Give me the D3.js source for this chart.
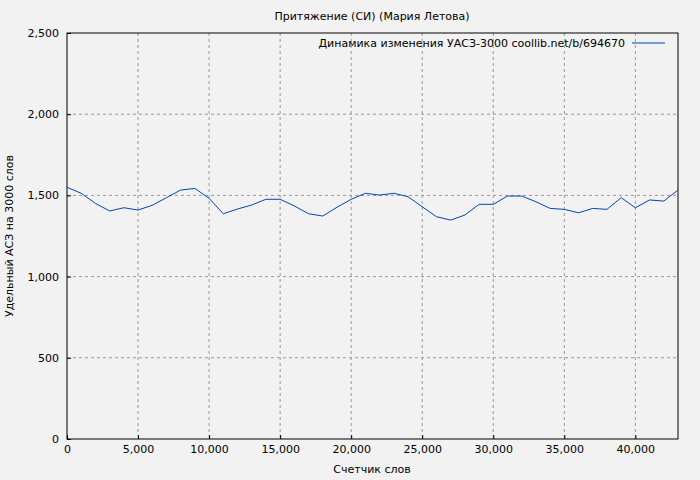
<!DOCTYPE html>
<html><head><meta charset="utf-8">
<script src="https://cdn.jsdelivr.net/npm/d3@7"></script>
<style>body{margin:0;background:#f2f2f2}text{font-family:"DejaVu Sans",sans-serif}</style>
</head><body><svg id="c" width="700" height="480"></svg>
<script>
const words = d3.range(0, 44000, 1000);
const uas = [1550,1513,1451,1404,1424,1410,1439,1486,1533,1543,1482,1387,1416,1441,1476,1476,1435,1387,1373,1427,1476,1513,1502,1513,1492,1430,1369,1348,1379,1445,1445,1496,1496,1461,1420,1414,1393,1420,1414,1486,1424,1472,1465,1533];
const xTicks = [0,5000,10000,15000,20000,25000,30000,35000,40000];
const yTicks = [0,500,1000,1500,2000,2500];

const svg = d3.select('#c');
svg.append('rect').attr('width',700).attr('height',480).attr('fill','#f2f2f2');
const m = {left:67, right:678, top:33, bottom:439};
const x = d3.scaleLinear().domain([0,43000]).range([m.left,m.right]);
const y = d3.scaleLinear().domain([0,2500]).range([m.bottom,m.top]);

const grid = svg.append('g').attr('stroke','#999').attr('stroke-dasharray','3,3');
xTicks.slice(1).forEach(t=>grid.append('line').attr('x1',x(t)).attr('x2',x(t)).attr('y1',m.top).attr('y2',m.bottom));
yTicks.slice(1,-1).forEach(t=>grid.append('line').attr('x1',m.left).attr('x2',m.right).attr('y1',y(t)).attr('y2',y(t)));

svg.append('g').attr('transform',`translate(0,${m.bottom})`)
  .call(d3.axisBottom(x).tickValues(xTicks).tickSize(-4).tickSizeOuter(0).tickPadding(6))
  .call(g=>g.select('.domain').remove()).selectAll('text').attr('font-size',11).attr('fill','#000');
svg.append('g').attr('transform',`translate(${m.left},0)`)
  .call(d3.axisLeft(y).tickValues(yTicks).tickSize(-4).tickSizeOuter(0).tickPadding(8))
  .call(g=>g.select('.domain').remove()).selectAll('text').attr('font-size',11).attr('fill','#000');
svg.append('rect').attr('x',m.left).attr('y',m.top).attr('width',m.right-m.left).attr('height',m.bottom-m.top)
  .attr('fill','none').attr('stroke','#000');

svg.append('path').datum(words.map((w,i)=>[w,uas[i]]))
  .attr('d',d3.line().x(d=>x(d[0])).y(d=>y(d[1])))
  .attr('fill','none').attr('stroke','#0046b4').attr('stroke-width',1);

svg.append('text').attr('x',372).attr('y',20).attr('text-anchor','middle').attr('font-size',11).text('Притяжение (СИ) (Мария Летова)');
svg.append('text').attr('x',372).attr('y',473).attr('text-anchor','middle').attr('font-size',11).text('Счетчик слов');
svg.append('text').attr('transform','translate(13,236) rotate(-90)').attr('text-anchor','middle').attr('font-size',11).text('Удельный АСЗ на 3000 слов');
svg.append('text').attr('x',625).attr('y',47).attr('text-anchor','end').attr('font-size',11).text('Динамика изменения УАСЗ-3000 coollib.net/b/694670');
svg.append('line').attr('x1',632).attr('x2',665).attr('y1',43).attr('y2',43).attr('stroke','#0046b4');
</script></body></html>
